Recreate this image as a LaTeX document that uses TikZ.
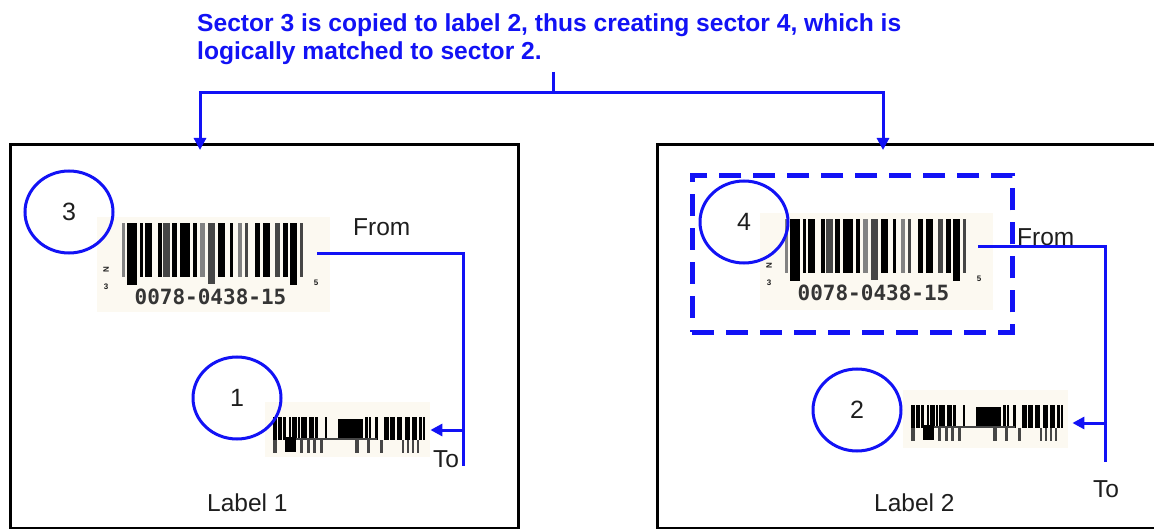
\documentclass[tikz,border=0pt]{standalone}
\usepackage{fontspec}
\setmainfont{Liberation Sans}
\newfontfamily\bcmono{DejaVu Sans Mono}
\usetikzlibrary{arrows.meta,shapes.geometric}
\definecolor{pblue}{RGB}{18,18,245}
\definecolor{cream}{RGB}{252,249,241}
\definecolor{ink}{RGB}{30,30,30}
\definecolor{bargray}{RGB}{70,70,70}
\definecolor{barlight}{RGB}{130,130,130}

\newcommand\drawbigbars[1]{%
  \foreach \a/\w/\c/\h in {24.7/3.3/barlight/60, 29.7/10/black/68, 43/3.3/black/60,
     48/6.7/black/60, 61.3/3.3/black/60, 66.3/6.7/bargray/60, 74.7/5/black/60,
     83/10/black/60, 96.3/3.3/black/60, 103/5/barlight/60, 111.3/6.7/bargray/67,
     121.3/6.7/black/60, 133/3.3/black/60, 141.3/3.3/barlight/60, 148/3.3/bargray/60,
     158/5/black/60, 166.3/6.7/black/60, 178/5/bargray/60, 186.3/5/black/60,
     193/6.7/black/68, 203/3.3/bargray/60}{%
    \fill[\c] (\a,6) rectangle (\a+\w,\h);
  }
  \node[bcdigits] (#1d) at (113.5,87.5) {0078-0438-15};
  \node[bctiny, rotate=90] (#1n) at (9,53) {N};
  \node[bctiny] (#1l) at (9,70) {3};
  \node[bctiny] (#1r) at (219,66) {5};
}

\newcommand\drawsmallbars[1]{%
  \foreach \a/\w in {8/4, 13/4, 18/2.5, 24/2, 27/4.5, 33/2, 36/6, 44/4.5, 50/2.5,
     60/2, 100/3, 104/1.5, 110/2.5, 119/4.5, 125/5, 132/5, 140/4.5, 147/5,
     154/2.5, 158/1.5}{%
    \fill[black] (\a,15) rectangle (\a+\w,38);
  }
  \fill[black] (73.3,16.5) rectangle (98.3,37);
  \fill[bargray] (58,35.8) rectangle (112,38.2);
  \fill[bargray] (30,35.8) rectangle (60,38.2);
  \foreach \a/\w in {8.3/3.4, 35/3, 41.7/3, 48.3/2.2, 55/3, 90/3.5,
     101.7/3, 115/3, 136.7/2, 141.7/2, 146.7/2, 151.7/2}{%
    \fill[bargray] (\a,38) rectangle (\a+\w,51);
  }
  \fill[black] (20,35) rectangle (31,50);
  \coordinate (#1o) at (0,0);
}

\tikzset{
  x=1pt, y=-1pt,
  labelbox/.style={draw=black, line width=2.8pt, inner sep=0pt, anchor=north west},
  dashbox/.style={draw=pblue, line width=4.8pt, dash pattern=on 22pt off 12pt, inner sep=0pt, anchor=north west},
  conn/.style={draw=pblue, line width=3pt},
  tip/.style={-{Triangle[length=12pt,width=12pt]}},
  sect/.style={ellipse, draw=pblue, line width=3pt, minimum width=88pt, minimum height=82pt,
     inner sep=0pt, text=ink, font=\fontsize{25}{25}\selectfont},
  titletext/.style={text=pblue, font=\bfseries\fontsize{24.6}{29}\selectfont, anchor=base west, inner sep=0pt},
  plain/.style={text=ink, font=\fontsize{24.5}{25}\selectfont, anchor=base west, inner sep=0pt},
  bcbg/.style={fill=cream, inner sep=0pt, anchor=north west},
  bcdigits/.style={text=ink!90, font=\bcmono\bfseries\fontsize{21}{21}\selectfont, anchor=base, inner sep=0pt},
  bctiny/.style={text=ink, font=\bfseries\fontsize{8}{8}\selectfont, inner sep=0pt},
}

\begin{document}
\begin{tikzpicture}
\clip (0,0) rectangle (1154,529);
\fill[white] (0,0) rectangle (1154,529);

% title
\node[titletext] (t1) at (197,31.5) {Sector 3 is copied to label 2, thus creating sector 4, which is};
\node[titletext] (t2) at (197,60) {logically matched to sector 2.};

% label boxes
\node[labelbox, minimum width=508pt, minimum height=384pt] (L1) at (9,143) {};
\node[labelbox, minimum width=540pt, minimum height=384pt] (L2) at (656,143) {};

% top connector
\coordinate (tk) at (553,72);
\coordinate (sp) at (553,93);
\coordinate (a1) at (200,150);
\coordinate (a2) at (883,150);
\draw[conn] (tk) -- (sp);
\draw[conn, tip] (sp) -| (a1);
\draw[conn, tip] (sp) -| (a2);

% ---- Label 1 ----
\node[bcbg, minimum width=233pt, minimum height=95pt] (bc3) at (97,217) {};
\begin{scope}[shift={(bc3.north west)}]
  \drawbigbars{b3}
\end{scope}
\node[bcbg, minimum width=165pt, minimum height=55pt] (bc1) at (265,402) {};
\begin{scope}[shift={(bc1.north west)}]
  \drawsmallbars{b1}
\end{scope}

\node[sect] (s3) at (69,212) {3};
\node[sect] (s1) at (237,398) {1};

\node[plain] (from1) at (353,236) {From};
\node[plain] (to1) at (433,467) {To};
\node[plain] (lab1) at (207,511) {Label 1};

\coordinate (f3) at (317,254);
\coordinate (e3) at (463,466);
\coordinate (j1) at (463,430);
\draw[conn] (f3) -| (e3);
\draw[conn, tip] (j1) -- (bc1.east |- j1);

% ---- Label 2 ----
\node[bcbg, minimum width=233pt, minimum height=97pt] (bc4) at (760,213) {};
\begin{scope}[shift={(bc4.north west)}]
  \drawbigbars{b4}
\end{scope}
\node[bcbg, minimum width=165pt, minimum height=58pt] (bc2) at (903,390) {};
\begin{scope}[shift={(bc2.north west)}]
  \drawsmallbars{b2}
\end{scope}

\node[dashbox, minimum width=320pt, minimum height=157pt] (sel) at (690,173) {};

\node[sect] (s4) at (744,222) {4};
\node[sect] (s2) at (857,410) {2};

\node[plain] (from2) at (1017,246) {From};
\node[plain] (to2) at (1093,497) {To};
\node[plain] (lab2) at (874,511) {Label 2};

\coordinate (f4) at (978,247);
\coordinate (e4) at (1105,462);
\coordinate (j2) at (1105,423);
\draw[conn] (f4) -| (e4);
\draw[conn, tip] (j2) -- ([xshift=4pt]bc2.east |- j2);
\end{tikzpicture}
\end{document}
